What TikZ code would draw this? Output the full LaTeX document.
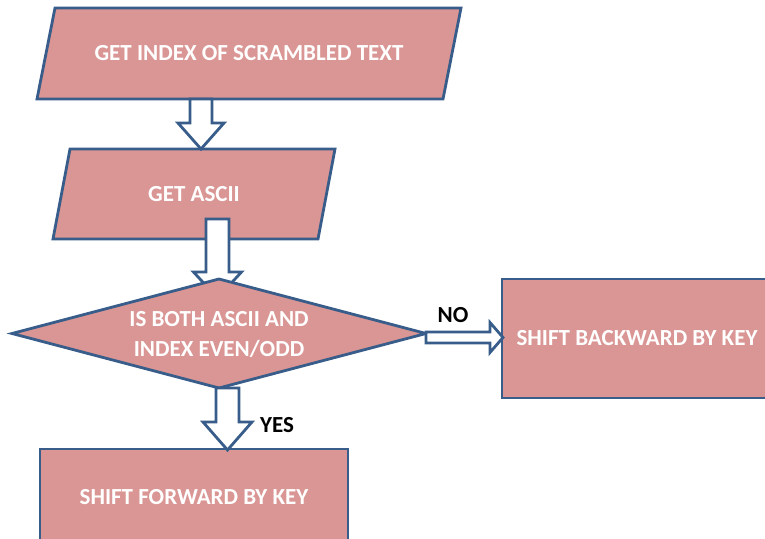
\documentclass[tikz,border=0pt]{standalone}
\usepackage{fontspec}
\setmainfont{Carlito}
\usetikzlibrary{shapes.geometric,calc,backgrounds}
\definecolor{boxfill}{HTML}{D99694}
\definecolor{boxline}{HTML}{385D8A}
\tikzset{
 boxtext/.style={text=white,font=\bfseries\fontsize{23}{30}\selectfont,outer sep=0pt,inner sep=0pt,align=center},
 flowbox/.style={boxtext,draw=boxline,fill=boxfill,line width=2.8pt},
 iofill/.style={draw=boxline,fill=boxfill,line width=2.8pt,line join=miter},
 decbox/.style={flowbox,diamond,aspect=3.8},
 procbox/.style={flowbox,rectangle},
 arrowbox/.style={draw=boxline,fill=white,line width=2.8pt,line join=miter},
 answer/.style={font=\bfseries\fontsize{23}{26}\selectfont,text=black}
}
% hollow block arrow: from, to, shaft half width, head half width, head length
\newcommand{\blockarrow}[5]{%
 \path ($(#2)!#5!(#1)$) coordinate (bah);
 \draw[arrowbox] ($(#1)!#3!90:(#2)$) -- ($(bah)!#3!90:(#2)$) -- ($(bah)!#4!90:(#2)$) -- (#2)
 -- ($(bah)!#4!-90:(#2)$) -- ($(bah)!#3!-90:(#2)$) -- ($(#1)!#3!-90:(#2)$) -- cycle;}
% slanted input box round a text node: node, half slant
\newcommand{\ioshape}[2]{%
 \draw[iofill] ([xshift=#2]#1.north west) -- ([xshift=#2]#1.north east)
 -- ([xshift=-#2]#1.south east) -- ([xshift=-#2]#1.south west) -- cycle;}

\begin{document}
\begin{tikzpicture}[x=1pt,y=-1pt]
\useasboundingbox (0,0) rectangle (765,538);
\clip (0,0) rectangle (765,538);

\node[boxtext,minimum width=406pt,minimum height=91pt] (getidx) at (249,53.5) {GET INDEX OF SCRAMBLED TEXT};
\node[boxtext,minimum width=265pt,minimum height=90pt] (getascii) at (194,194) {GET ASCII};
\begin{scope}[on background layer]
\ioshape{getidx}{9pt}
\ioshape{getascii}{8.5pt}
\end{scope}

\coordinate (a1s) at (201,0 |- getidx.south);
\coordinate (a1e) at (201,0 |- getascii.north);
\blockarrow{a1s}{a1e}{11pt}{23pt}{26pt}

\coordinate (a2s) at (217.5,219);
\coordinate (a2e) at (217.5,298);
\blockarrow{a2s}{a2e}{11.5pt}{24pt}{26pt}

\node[decbox,minimum width=414pt,minimum height=109pt,text depth=-6pt] (isboth) at (219,333.5) {IS BOTH ASCII AND\\INDEX EVEN/ODD};
\node[procbox,minimum width=270pt,minimum height=119pt] (bwd) at (637,338.5) {SHIFT BACKWARD BY KEY};
\node[procbox,minimum width=308pt,minimum height=96pt] (fwd) at (194,497) {SHIFT FORWARD BY KEY};

\coordinate (ns) at ($(isboth.east)+(0,4)$);
\coordinate (ne) at ($(ns -| bwd.west)+(1,0)$);
\blockarrow{ns}{ne}{5.5pt}{15pt}{13pt}
\coordinate (ys) at (227.5,0 |- isboth.south);
\coordinate (ye) at ($(ys |- fwd.north)+(0,1)$);
\blockarrow{ys}{ye}{11.5pt}{24.5pt}{28pt}

\node[answer] (no) at (453,315) {NO};
\node[answer] (yes) at (277,425) {YES};
\end{tikzpicture}
\end{document}
